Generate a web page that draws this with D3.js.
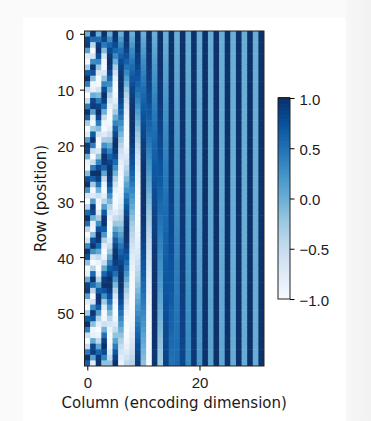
<!DOCTYPE html>
<html>
<head>
<meta charset="utf-8">
<script src="https://cdn.jsdelivr.net/npm/d3@7"></script>
<style>
  html, body { margin: 0; padding: 0; background: #fafafa; }
  svg { display: block; font-family: "DejaVu Sans", sans-serif; }
  .axis text { font-size: 15px; fill: #1a1a1a; }
  .axis line, .axis path { stroke: #000; stroke-width: 1px; }
</style>
</head>
<body>
<div id="chart"></div>
<script>
const xTicks = [0, 20];
const yTicks = [0, 10, 20, 30, 40, 50];
const barTicks = [-1, -0.5, 0, 0.5, 1];
const xLabel = "Column (encoding dimension)";
const yLabel = "Row (position)";
const blues = ["#f7fbff", "#deebf7", "#c6dbef", "#9ecae1", "#6baed6", "#4292c6", "#2171b5", "#08519c", "#08306b"];

// one array per column of the heatmap, top row first
const columns = [
[0,.84,.91,.14,-.76,-.96,-.28,.66,.99,.41,-.54,-1,-.54,.42,.99,.65,-.29,-.96,-.75,.15,.91,.84,-.01,-.85,-.91,-.13,.76,.96,.27,-.66,-.99,-.4,.55,1,.53,-.43,-.99,-.64,.3,.96,.75,-.16,-.92,-.83,.02,.85,.9,.12,-.77,-.95,-.26,.67,.99,.4,-.56,-1,-.52,.44,.99,.64],
[1,.54,-.42,-.99,-.65,.28,.96,.75,-.15,-.91,-.84,0,.84,.91,.14,-.76,-.96,-.28,.66,.99,.41,-.55,-1,-.53,.42,.99,.65,-.29,-.96,-.75,.15,.91,.83,-.01,-.85,-.9,-.13,.77,.96,.27,-.67,-.99,-.4,.56,1,.53,-.43,-.99,-.64,.3,.96,.74,-.16,-.92,-.83,.02,.85,.9,.12,-.77],
[0,.53,.9,.99,.78,.32,-.23,-.71,-.98,-.94,-.61,-.1,.45,.86,1,.84,.41,-.13,-.64,-.95,-.97,-.69,-.19,.36,.8,1,.89,.5,-.04,-.56,-.92,-.99,-.75,-.29,.26,.74,.98,.93,.58,.06,-.48,-.87,-1,-.82,-.38,.17,.67,.96,.96,.66,.16,-.39,-.82,-1,-.87,-.47,.07,.59,.93,.98],
[1,.85,.43,-.12,-.63,-.95,-.97,-.7,-.21,.34,.79,1,.89,.52,-.02,-.55,-.91,-.99,-.77,-.31,.25,.72,.98,.93,.6,.08,-.47,-.87,-1,-.83,-.4,.15,.66,.96,.96,.67,.18,-.37,-.81,-1,-.88,-.49,.05,.58,.92,.99,.74,.27,-.28,-.75,-.99,-.92,-.57,-.04,.5,.88,1,.8,.36,-.19],
[0,.31,.59,.81,.95,1,.95,.8,.57,.29,-.02,-.33,-.61,-.83,-.96,-1,-.94,-.79,-.55,-.27,.04,.35,.62,.84,.97,1,.93,.77,.54,.25,-.06,-.37,-.64,-.85,-.97,-1,-.93,-.76,-.52,-.23,.08,.39,.66,.86,.98,1,.92,.75,.5,.21,-.1,-.41,-.67,-.87,-.98,-.99,-.91,-.73,-.49,-.19],
[1,.95,.81,.58,.3,-.01,-.32,-.6,-.82,-.96,-1,-.94,-.79,-.56,-.28,.03,.34,.62,.83,.96,1,.94,.78,.55,.26,-.05,-.36,-.63,-.84,-.97,-1,-.93,-.77,-.53,-.24,.07,.38,.65,.85,.97,1,.92,.76,.51,.22,-.09,-.4,-.66,-.86,-.98,-1,-.91,-.74,-.5,-.2,.11,.42,.68,.87,.98],
[0,.18,.35,.51,.65,.78,.88,.95,.99,1,.98,.93,.85,.74,.61,.46,.29,.12,-.06,-.23,-.4,-.56,-.69,-.81,-.9,-.96,-1,-1,-.96,-.9,-.81,-.7,-.56,-.41,-.24,-.06,.12,.29,.46,.61,.74,.85,.93,.98,1,.99,.95,.88,.78,.65,.51,.35,.18,0,-.18,-.35,-.51,-.65,-.78,-.88],
[1,.98,.94,.86,.76,.63,.48,.32,.15,-.03,-.21,-.38,-.53,-.67,-.8,-.89,-.96,-.99,-1,-.97,-.92,-.83,-.72,-.58,-.43,-.26,-.09,.09,.26,.43,.58,.72,.83,.92,.97,1,.99,.96,.89,.79,.68,.53,.38,.21,.03,-.15,-.32,-.48,-.63,-.76,-.86,-.94,-.98,-1,-.98,-.94,-.86,-.76,-.63,-.48],
[0,.1,.2,.3,.39,.48,.56,.64,.72,.78,.84,.89,.93,.96,.99,1,1,.99,.97,.95,.91,.86,.81,.75,.68,.6,.52,.43,.33,.24,.14,.04,-.06,-.16,-.26,-.35,-.44,-.53,-.61,-.69,-.76,-.82,-.87,-.92,-.95,-.98,-.99,-1,-1,-.98,-.96,-.93,-.88,-.83,-.77,-.71,-.63,-.55,-.46,-.37],
[1,1,.98,.96,.92,.88,.83,.76,.7,.62,.54,.45,.36,.27,.17,.07,-.03,-.13,-.23,-.32,-.42,-.5,-.59,-.67,-.74,-.8,-.86,-.9,-.94,-.97,-.99,-1,-1,-.99,-.97,-.94,-.9,-.85,-.79,-.73,-.65,-.57,-.49,-.4,-.31,-.21,-.11,-.01,.09,.19,.28,.38,.47,.55,.63,.71,.78,.83,.88,.93],
[0,.06,.11,.17,.22,.28,.33,.38,.43,.48,.53,.58,.62,.67,.71,.75,.78,.82,.85,.88,.9,.92,.94,.96,.98,.99,.99,1,1,1,.99,.98,.97,.96,.94,.92,.9,.87,.84,.81,.78,.74,.7,.66,.62,.57,.53,.48,.43,.38,.32,.27,.22,.16,.1,.05,-.01,-.06,-.12,-.18],
[1,1,.99,.99,.97,.96,.94,.92,.9,.87,.85,.81,.78,.74,.71,.67,.62,.58,.53,.48,.43,.38,.33,.27,.22,.16,.11,.05,0,-.06,-.12,-.17,-.23,-.28,-.33,-.39,-.44,-.49,-.54,-.58,-.63,-.67,-.71,-.75,-.78,-.82,-.85,-.88,-.9,-.93,-.95,-.96,-.98,-.99,-.99,-1,-1,-1,-.99,-.98],
[0,.03,.06,.09,.13,.16,.19,.22,.25,.28,.31,.34,.37,.4,.43,.46,.49,.51,.54,.57,.59,.62,.64,.67,.69,.71,.73,.75,.77,.79,.81,.83,.85,.87,.88,.89,.91,.92,.93,.94,.95,.96,.97,.98,.99,.99,.99,1,1,1,1,1,1,.99,.99,.99,.98,.97,.96,.96],
[1,1,1,1,.99,.99,.98,.98,.97,.96,.95,.94,.93,.92,.9,.89,.87,.86,.84,.82,.81,.79,.77,.75,.72,.7,.68,.66,.63,.61,.58,.56,.53,.5,.48,.45,.42,.39,.36,.33,.3,.27,.25,.22,.19,.16,.13,.09,.06,.03,-.01,-.04,-.07,-.1,-.13,-.16,-.19,-.22,-.25,-.29],
[0,.02,.04,.05,.07,.09,.11,.12,.14,.16,.18,.19,.21,.23,.25,.26,.28,.3,.32,.33,.35,.37,.38,.4,.42,.43,.45,.46,.48,.5,.51,.53,.54,.56,.57,.58,.6,.61,.63,.64,.65,.67,.68,.69,.71,.72,.73,.74,.75,.76,.78,.79,.8,.81,.82,.83,.84,.85,.86,.87],
[1,1,1,1,1,1,.99,.99,.99,.99,.98,.98,.98,.97,.97,.96,.96,.95,.95,.94,.94,.93,.92,.92,.91,.9,.89,.89,.88,.87,.86,.85,.84,.83,.82,.81,.8,.79,.78,.77,.75,.74,.73,.72,.71,.69,.68,.67,.66,.64,.63,.62,.6,.59,.57,.56,.55,.53,.51,.5],
[0,.01,.02,.03,.04,.05,.06,.07,.08,.09,.1,.11,.12,.13,.14,.15,.16,.17,.18,.19,.2,.21,.22,.23,.24,.25,.26,.27,.28,.29,.3,.31,.31,.32,.33,.34,.35,.36,.37,.38,.39,.4,.41,.42,.43,.43,.44,.45,.46,.47,.48,.49,.5,.51,.51,.52,.53,.54,.55,.56],
[1,1,1,1,1,1,1,1,1,1,.99,.99,.99,.99,.99,.99,.99,.99,.98,.98,.98,.98,.98,.97,.97,.97,.97,.96,.96,.96,.96,.95,.95,.95,.94,.94,.94,.93,.93,.92,.92,.92,.91,.91,.9,.9,.9,.89,.89,.88,.88,.87,.87,.86,.86,.85,.85,.84,.84,.83],
[0,.01,.01,.02,.02,.03,.03,.04,.04,.05,.06,.06,.07,.07,.08,.08,.09,.1,.1,.11,.11,.12,.12,.13,.13,.14,.15,.15,.16,.16,.17,.17,.18,.18,.19,.2,.2,.21,.21,.22,.22,.23,.23,.24,.25,.25,.26,.26,.27,.27,.28,.28,.29,.29,.3,.31,.31,.32,.32,.33],
[1,1,1,1,1,1,1,1,1,1,1,1,1,1,1,1,1,1,.99,.99,.99,.99,.99,.99,.99,.99,.99,.99,.99,.99,.99,.99,.98,.98,.98,.98,.98,.98,.98,.98,.98,.97,.97,.97,.97,.97,.97,.97,.96,.96,.96,.96,.96,.96,.95,.95,.95,.95,.95,.95],
[0,0,.01,.01,.01,.02,.02,.02,.03,.03,.03,.03,.04,.04,.04,.05,.05,.05,.06,.06,.06,.07,.07,.07,.08,.08,.08,.09,.09,.09,.09,.1,.1,.1,.11,.11,.11,.12,.12,.12,.13,.13,.13,.14,.14,.14,.15,.15,.15,.15,.16,.16,.16,.17,.17,.17,.18,.18,.18,.19],
[1,1,1,1,1,1,1,1,1,1,1,1,1,1,1,1,1,1,1,1,1,1,1,1,1,1,1,1,1,1,1,1,.99,.99,.99,.99,.99,.99,.99,.99,.99,.99,.99,.99,.99,.99,.99,.99,.99,.99,.99,.99,.99,.99,.99,.99,.99,.99,.99,.99],
[0,0,0,.01,.01,.01,.01,.01,.01,.02,.02,.02,.02,.02,.02,.03,.03,.03,.03,.03,.04,.04,.04,.04,.04,.04,.05,.05,.05,.05,.05,.06,.06,.06,.06,.06,.06,.07,.07,.07,.07,.07,.07,.08,.08,.08,.08,.08,.09,.09,.09,.09,.09,.09,.1,.1,.1,.1,.1,.1],
[1,1,1,1,1,1,1,1,1,1,1,1,1,1,1,1,1,1,1,1,1,1,1,1,1,1,1,1,1,1,1,1,1,1,1,1,1,1,1,1,1,1,1,1,1,1,1,1,1,1,1,1,1,1,1,1,1,1,1,1],
[0,0,0,0,0,.01,.01,.01,.01,.01,.01,.01,.01,.01,.01,.02,.02,.02,.02,.02,.02,.02,.02,.02,.02,.03,.03,.03,.03,.03,.03,.03,.03,.03,.03,.04,.04,.04,.04,.04,.04,.04,.04,.04,.04,.05,.05,.05,.05,.05,.05,.05,.05,.05,.05,.06,.06,.06,.06,.06],
[1,1,1,1,1,1,1,1,1,1,1,1,1,1,1,1,1,1,1,1,1,1,1,1,1,1,1,1,1,1,1,1,1,1,1,1,1,1,1,1,1,1,1,1,1,1,1,1,1,1,1,1,1,1,1,1,1,1,1,1],
[0,0,0,0,0,0,0,0,0,.01,.01,.01,.01,.01,.01,.01,.01,.01,.01,.01,.01,.01,.01,.01,.01,.01,.01,.02,.02,.02,.02,.02,.02,.02,.02,.02,.02,.02,.02,.02,.02,.02,.02,.02,.02,.03,.03,.03,.03,.03,.03,.03,.03,.03,.03,.03,.03,.03,.03,.03],
[1,1,1,1,1,1,1,1,1,1,1,1,1,1,1,1,1,1,1,1,1,1,1,1,1,1,1,1,1,1,1,1,1,1,1,1,1,1,1,1,1,1,1,1,1,1,1,1,1,1,1,1,1,1,1,1,1,1,1,1],
[0,0,0,0,0,0,0,0,0,0,0,0,0,0,0,0,.01,.01,.01,.01,.01,.01,.01,.01,.01,.01,.01,.01,.01,.01,.01,.01,.01,.01,.01,.01,.01,.01,.01,.01,.01,.01,.01,.01,.01,.01,.01,.01,.02,.02,.02,.02,.02,.02,.02,.02,.02,.02,.02,.02],
[1,1,1,1,1,1,1,1,1,1,1,1,1,1,1,1,1,1,1,1,1,1,1,1,1,1,1,1,1,1,1,1,1,1,1,1,1,1,1,1,1,1,1,1,1,1,1,1,1,1,1,1,1,1,1,1,1,1,1,1],
[0,0,0,0,0,0,0,0,0,0,0,0,0,0,0,0,0,0,0,0,0,0,0,0,0,0,0,0,.01,.01,.01,.01,.01,.01,.01,.01,.01,.01,.01,.01,.01,.01,.01,.01,.01,.01,.01,.01,.01,.01,.01,.01,.01,.01,.01,.01,.01,.01,.01,.01],
[1,1,1,1,1,1,1,1,1,1,1,1,1,1,1,1,1,1,1,1,1,1,1,1,1,1,1,1,1,1,1,1,1,1,1,1,1,1,1,1,1,1,1,1,1,1,1,1,1,1,1,1,1,1,1,1,1,1,1,1]
];

const width = 371, height = 421;
const plot = { left: 84.5, right: 264, top: 31, bottom: 366 };
const bar = { left: 278, right: 290, top: 98, bottom: 299 };

const svg = d3.select("#chart").append("svg")
    .attr("width", width)
    .attr("height", height);

// page behind the figure
const defs = svg.append("defs");
const sideFade = defs.append("linearGradient").attr("id", "sideFade");
sideFade.append("stop").attr("offset", 0).attr("stop-color", "#f7f7f7");
sideFade.append("stop").attr("offset", 1).attr("stop-color", "#f2f2f2");
svg.append("rect").attr("x", 346).attr("width", 25).attr("height", height).attr("fill", "url(#sideFade)");
svg.append("rect").attr("x", 23).attr("y", 18).attr("width", 323).attr("height", height - 18).attr("fill", "#fff");

var x = d3.scaleLinear().domain([-0.5, columns.length - 0.5]).range([plot.left, plot.right]);
var y = d3.scaleLinear().domain([-0.5, columns[0].length - 0.5]).range([plot.top, plot.bottom]);
var color = d3.scaleLinear()
    .domain(d3.range(blues.length).map(i => -1 + 2 * i / (blues.length - 1)))
    .range(blues);

// the reference was resampled, so the cells are slightly soft
defs.append("filter").attr("id", "soft")
    .attr("x", "-2%").attr("y", "-2%").attr("width", "104%").attr("height", "104%")
    .append("feGaussianBlur").attr("stdDeviation", 0.55);
defs.append("clipPath").attr("id", "plotClip").append("rect")
    .attr("x", plot.left).attr("y", plot.top)
    .attr("width", plot.right - plot.left).attr("height", plot.bottom - plot.top);

svg.append("g").attr("clip-path", "url(#plotClip)")
  .append("g").attr("filter", "url(#soft)")
  .selectAll("g")
  .data(columns)
  .enter().append("g")
  .selectAll("rect")
  .data((col, c) => col.map((v, r) => ({ c: c, r: r, v: v })))
  .enter().append("rect")
  .attr("x", d => x(d.c - 0.5))
  .attr("y", d => y(d.r - 0.5))
  .attr("width", x(1) - x(0) + 0.5)
  .attr("height", y(1) - y(0) + 0.5)
  .attr("fill", d => color(d.v));

// frame and axes
svg.append("rect")
    .attr("x", plot.left).attr("y", plot.top)
    .attr("width", plot.right - plot.left).attr("height", plot.bottom - plot.top)
    .attr("fill", "none").attr("stroke", "#222").attr("stroke-width", 1);

svg.append("g")
    .attr("class", "axis")
    .attr("transform", "translate(0," + plot.bottom + ")")
    .call(d3.axisBottom(x).tickValues(xTicks).tickSize(4.5).tickPadding(6.5))
    .call(g => g.select(".domain").remove());

svg.append("g")
    .attr("class", "axis")
    .attr("transform", "translate(" + plot.left + ",0)")
    .call(d3.axisLeft(y).tickValues(yTicks).tickSize(4.5).tickPadding(6))
    .call(g => g.select(".domain").remove())
    .selectAll("text").attr("dy", "0.4em");

svg.append("text")
    .attr("x", (plot.left + plot.right) / 2)
    .attr("y", 408)
    .attr("text-anchor", "middle")
    .attr("font-size", 15)
    .attr("fill", "#1a1a1a")
    .text(xLabel);

svg.append("text")
    .attr("transform", "translate(46," + (plot.top + plot.bottom) / 2 + ") rotate(-90)")
    .attr("text-anchor", "middle")
    .attr("font-size", 15)
    .attr("fill", "#1a1a1a")
    .text(yLabel);

// colorbar
var barY = d3.scaleLinear().domain([-1, 1]).range([bar.bottom, bar.top]);
svg.append("g")
    .selectAll("rect")
    .data(d3.range(256).map(i => -1 + 2 * i / 255))
    .enter().append("rect")
    .attr("x", bar.left)
    .attr("y", d => barY(d) - 1)
    .attr("width", bar.right - bar.left)
    .attr("height", 1.5)
    .attr("fill", d => color(d));

svg.append("rect")
    .attr("x", bar.left).attr("y", bar.top)
    .attr("width", bar.right - bar.left).attr("height", bar.bottom - bar.top)
    .attr("fill", "none").attr("stroke", "#222").attr("stroke-width", 1);

svg.append("g")
    .attr("class", "axis")
    .attr("transform", "translate(" + bar.right + ",0)")
    .call(d3.axisRight(barY).tickValues(barTicks).tickSize(4.5).tickPadding(5).tickFormat(d3.format(".1f")))
    .call(g => g.select(".domain").remove())
    .selectAll("text").attr("dy", "0.4em");
</script>
</body>
</html>
